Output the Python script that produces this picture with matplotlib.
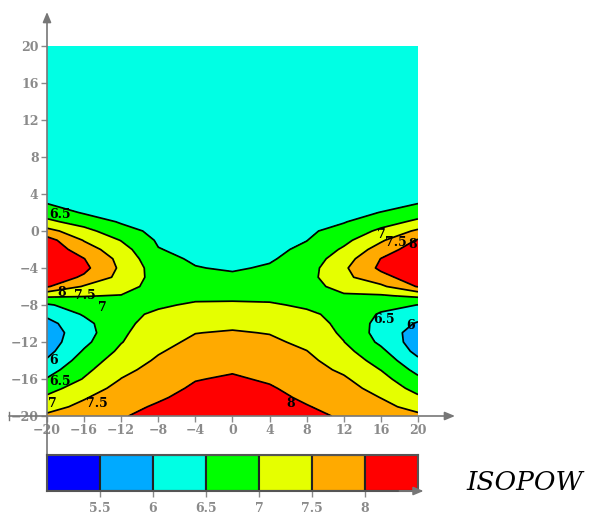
import numpy as np
import matplotlib
matplotlib.use('Agg')
import matplotlib.pyplot as plt

# =============================================================================
# Data (ISOPOW field on a coarse grid)
# =============================================================================
xs = [-20, -16, -12, -8, -4, 0, 4, 8, 12, 16, 20]
ys = [-20, -19, -18, -17, -16, -15, -14, -13, -12, -11, -10, -9, -8, -7,
      -6, -5, -4, -3, -2, -1, 0, 1, 2, 3, 4, 8, 12, 16, 20]

Z = [
    [7.58, 7.78, 7.97, 8.12, 8.22, 8.25, 8.18, 8.08, 7.96, 7.76, 7.60],  # -20
    [7.33, 7.62, 7.88, 8.05, 8.18, 8.22, 8.15, 8.02, 7.87, 7.63, 7.34],  # -19
    [7.08, 7.46, 7.78, 7.95, 8.13, 8.18, 8.10, 7.94, 7.77, 7.49, 7.08],  # -18
    [6.81, 7.26, 7.65, 7.85, 8.06, 8.12, 8.04, 7.85, 7.67, 7.33, 6.83],  # -17
    [6.53, 7.03, 7.51, 7.76, 7.98, 8.05, 7.95, 7.77, 7.56, 7.17, 6.60],  # -16
    [6.29, 6.88, 7.38, 7.66, 7.88, 7.96, 7.86, 7.68, 7.42, 6.99, 6.35],  # -15
    [6.05, 6.72, 7.25, 7.56, 7.79, 7.86, 7.77, 7.60, 7.29, 6.81, 6.10],  # -14
    [5.85, 6.55, 7.10, 7.46, 7.69, 7.75, 7.68, 7.51, 7.15, 6.62, 5.84],  # -13
    [5.75, 6.38, 6.98, 7.36, 7.59, 7.64, 7.59, 7.39, 7.01, 6.40, 5.74],  # -12
    [5.75, 6.28, 6.93, 7.26, 7.49, 7.54, 7.48, 7.28, 6.93, 6.30, 5.78],  # -11
    [5.85, 6.35, 6.90, 7.16, 7.34, 7.40, 7.33, 7.17, 6.90, 6.33, 5.95],  # -10
    [6.10, 6.55, 6.90, 7.06, 7.20, 7.23, 7.18, 7.06, 6.90, 6.44, 6.22],  # -9
    [6.43, 6.78, 6.92, 6.95, 7.05, 7.07, 7.04, 6.95, 6.90, 6.69, 6.49],  # -8
    [7.10, 7.02, 6.98, 6.85, 6.91, 6.90, 6.91, 6.87, 6.95, 6.95, 7.10],  # -7
    [8.05, 7.45, 7.20, 6.80, 6.78, 6.74, 6.79, 6.84, 7.15, 7.40, 8.04],  # -6
    [8.30, 7.93, 7.35, 6.80, 6.65, 6.58, 6.67, 6.83, 7.38, 7.83, 8.30],  # -5
    [8.40, 8.12, 7.41, 6.75, 6.52, 6.45, 6.55, 6.78, 7.42, 8.10, 8.40],  # -4
    [8.42, 8.01, 7.35, 6.63, 6.44, 6.39, 6.45, 6.70, 7.27, 8.01, 8.40],  # -3
    [8.35, 7.74, 7.20, 6.52, 6.37, 6.32, 6.38, 6.60, 7.07, 7.73, 8.28],  # -2
    [8.20, 7.47, 6.98, 6.44, 6.30, 6.27, 6.31, 6.49, 6.87, 7.43, 8.05],  # -1
    [7.67, 7.16, 6.68, 6.37, 6.25, 6.22, 6.26, 6.42, 6.67, 7.10, 7.59],  # 0
    [7.11, 6.79, 6.45, 6.30, 6.20, 6.18, 6.21, 6.34, 6.47, 6.79, 7.10],  # 1
    [6.78, 6.45, 6.33, 6.25, 6.17, 6.15, 6.17, 6.27, 6.36, 6.51, 6.78],  # 2
    [6.49, 6.35, 6.25, 6.20, 6.13, 6.12, 6.13, 6.20, 6.27, 6.35, 6.49],  # 3
    [6.25, 6.25, 6.20, 6.15, 6.10, 6.10, 6.10, 6.15, 6.20, 6.25, 6.25],  # 4
    [6.20, 6.20, 6.20, 6.20, 6.20, 6.20, 6.20, 6.20, 6.20, 6.20, 6.20],  # 8
    [6.20, 6.20, 6.20, 6.20, 6.20, 6.20, 6.20, 6.20, 6.20, 6.20, 6.20],  # 12
    [6.20, 6.20, 6.20, 6.20, 6.20, 6.20, 6.20, 6.20, 6.20, 6.20, 6.20],  # 16
    [6.20, 6.20, 6.20, 6.20, 6.20, 6.20, 6.20, 6.20, 6.20, 6.20, 6.20],  # 20
]

levels = [5.0, 5.5, 6.0, 6.5, 7.0, 7.5, 8.0, 8.5]
level_colors = ['#0000ff', '#00aaff', '#00ffe4', '#00ff00',
                '#e5ff00', '#ffaa00', '#ff0000']
tick_vals = [-20, -16, -12, -8, -4, 0, 4, 8, 12, 16, 20]

# inline contour labels as they sit in the reference
label_text = ['6.5', '8', '7.5', '7', '6', '6.5', '7', '7.5', '8',
              '7', '7.5', '8', '6.5', '6']
label_x = [-18.6, -18.4, -15.9, -14.0, -19.3, -18.6, -19.4, -14.6, 6.3,
           16.0, 17.6, 19.4, 16.3, 19.2]
label_y = [1.8, -6.7, -7.0, -8.3, -14.0, -16.3, -18.6, -18.7, -18.7,
           -0.4, -1.2, -1.5, -9.6, -10.2]

# =============================================================================
# Figure
# =============================================================================
GRAY = '#8a8a8a'
SERIF = 'DejaVu Serif'

fig = plt.figure(figsize=(5.92, 5.16), dpi=100)
ax = fig.add_axes([47 / 592, 100 / 516, 371 / 592, 370 / 516])

ax.contourf(xs, ys, Z, levels=levels, colors=level_colors)
ax.contour(xs, ys, Z, levels=levels[1:-1], colors='black', linewidths=1.25)

for t, x, y in zip(label_text, label_x, label_y):
    ax.text(x, y, t, fontsize=9, fontweight='bold', family=SERIF,
            ha='center', va='center', color='black')

ax.set_xlim(-20, 20)
ax.set_ylim(-20, 20)
for s in ax.spines.values():
    s.set_visible(False)
ax.set_xticks(tick_vals)
ax.set_yticks(tick_vals)
ax.tick_params(colors=GRAY, length=4, width=1, labelsize=9, pad=2)
for lab in ax.get_xticklabels() + ax.get_yticklabels():
    lab.set_family(SERIF)
    lab.set_fontweight('bold')

# Mathcad-style axis arrows
arrow = dict(arrowstyle='-|>,head_length=0.6,head_width=0.25', color='#777777',
             lw=1.2, shrinkA=0, shrinkB=0)
ax.annotate('', xy=(0, 404 / 370), xytext=(0, -39 / 370),
            xycoords='axes fraction', arrowprops=arrow, annotation_clip=False)
ax.annotate('', xy=(408 / 371, 0), xytext=(-38 / 371, 0),
            xycoords='axes fraction', arrowprops=arrow, annotation_clip=False)
ax.plot([-38 / 371, -38 / 371], [-4 / 370, 4 / 370], color='#777777', lw=1,
        transform=ax.transAxes, clip_on=False)

# legend bar
cax = fig.add_axes([47 / 592, 25 / 516, 371 / 592, 36 / 516])
cax.bar(levels[:-1], 1, width=0.5, align='edge', color=level_colors,
        edgecolor='#222222', linewidth=1.5)
cax.set_xlim(levels[0], levels[-1])
cax.set_ylim(0, 1)
for s in cax.spines.values():
    s.set_color('#555555')
    s.set_linewidth(1.5)
cax.set_yticks([])
cax.set_xticks(levels[1:-1])
cax.set_xticklabels(['5.5', '6', '6.5', '7', '7.5', '8'])
cax.tick_params(colors=GRAY, length=4, width=1, labelsize=9, pad=4)
for lab in cax.get_xticklabels():
    lab.set_family(SERIF)
    lab.set_fontweight('bold')
cax.annotate('', xy=(1.015, 0), xytext=(0.95, 0), xycoords='axes fraction',
             arrowprops=arrow, annotation_clip=False)

fig.text(525 / 592, 1 - 482 / 516, 'ISOPOW', family=SERIF, style='italic',
         fontsize=19, ha='center', va='center', color='black')

fig.savefig('out.png', dpi=100)
